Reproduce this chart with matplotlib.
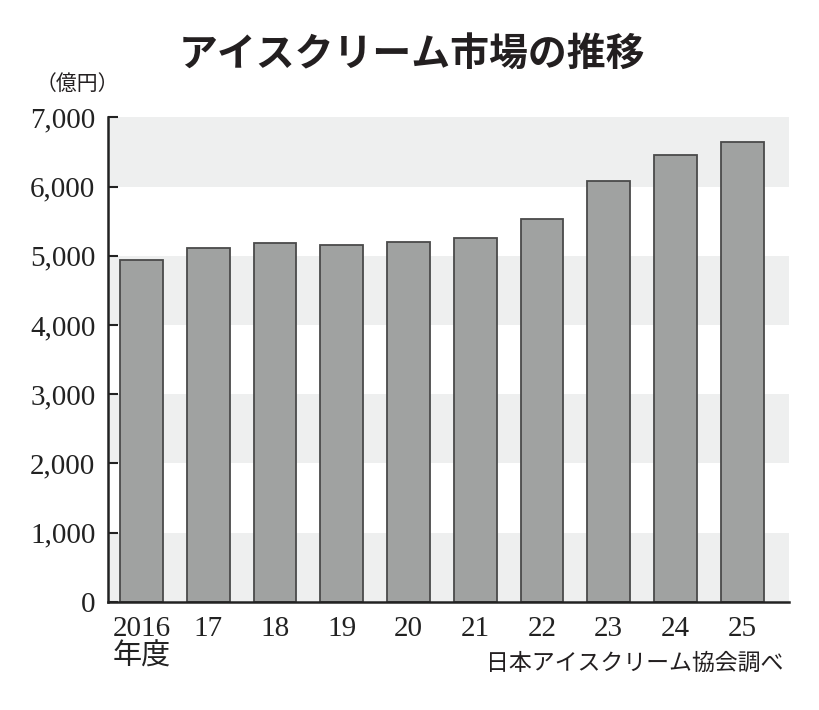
import matplotlib
matplotlib.use("Agg")
import matplotlib.pyplot as plt

years = ['2016\n年度', '17', '18', '19', '20', '21', '22', '23', '24', '25']
sales = [4940, 5115, 5190, 5155, 5200, 5260, 5535, 6085, 6460, 6640]
yticks = [0, 1000, 2000, 3000, 4000, 5000, 6000, 7000]
ytick_labels = ['0', '1,000', '2,000', '3,000', '4,000', '5,000', '6,000', '7,000']

serif = ['Liberation Serif', 'Noto Sans CJK JP']
jp = ['Noto Sans CJK JP', 'DejaVu Sans']

fig = plt.figure(figsize=(8.2, 7.1), dpi=100)
ax = fig.add_axes([0.1317, 0.1525, 0.8305, 0.6822])

# alternating bands
for lo in [0, 2000, 4000, 6000]:
    ax.axhspan(lo, lo + 1000, color='#eeefef', zorder=0, lw=0)

x = list(range(len(sales)))
ax.bar(x, sales, width=0.64, color='#a0a2a1', edgecolor='#4a4a4a',
       linewidth=1.3, zorder=2)

ax.set_xlim(-0.5, 9.7)
ax.set_ylim(0, 7000)
ax.set_yticks(yticks)
ax.set_yticklabels(ytick_labels, family=serif, fontsize=21)
ax.set_xticks(x)
labels = ax.set_xticklabels(years, family=serif, fontsize=21, linespacing=1.1)
labels[0].set_multialignment('left')

ax.tick_params(axis='y', direction='in', length=7, width=1.5, pad=9, colors='#222222')
ax.tick_params(axis='x', length=0, pad=10, colors='#222222')

for s in ['top', 'right']:
    ax.spines[s].set_visible(False)
for s in ['left', 'bottom']:
    ax.spines[s].set_linewidth(1.8)
    ax.spines[s].set_color('#222222')

fig.text(0.502, 0.922, 'アイスクリーム市場の推移', family=jp, fontsize=28,
         fontweight='bold', ha='center', va='center', color='#231f20')
fig.text(0.043, 0.882, '（億円）', family=jp, fontsize=15, ha='left',
         va='center', color='#231f20')
fig.text(0.955, 0.066, '日本アイスクリーム協会調べ', family=jp, fontsize=16.5,
         ha='right', va='center', color='#231f20')

fig.savefig('out.png', dpi=100)
